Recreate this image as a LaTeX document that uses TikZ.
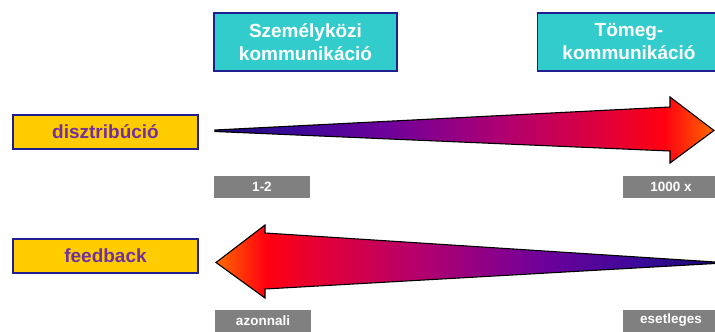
\documentclass[tikz,border=0pt]{standalone}
\usepackage{fontspec}
\setmainfont{Liberation Sans}
\definecolor{teal1}{HTML}{33CCCC}
\definecolor{navy1}{HTML}{1F1F8F}
\definecolor{gold1}{HTML}{FFCC00}
\definecolor{purp1}{HTML}{7030A0}
\definecolor{gray1}{HTML}{808080}
\definecolor{gA}{HTML}{1A0A70}
\definecolor{gB}{HTML}{3A0A9A}
\definecolor{gC}{HTML}{70009A}
\definecolor{gD}{HTML}{B00070}
\definecolor{gE}{HTML}{E0003A}
\definecolor{gF}{HTML}{FF0010}
\definecolor{gG}{HTML}{FF6A00}
\pgfdeclarehorizontalshading{arrowgrad}{100bp}{
  color(0bp)=(gA);
  color(25bp)=(gA);
  color(32.5bp)=(gB);
  color(42.5bp)=(gC);
  color(54bp)=(gD);
  color(64bp)=(gE);
  color(70bp)=(gF);
  color(75bp)=(gG);
  color(100bp)=(gG)}
\begin{document}
\begin{tikzpicture}[x=1pt,y=-1pt,
  headbox/.style={draw=navy1,line width=1.5pt,fill=teal1,text=white,font=\bfseries\fontsize{19}{23}\selectfont,align=center,minimum width=183pt,minimum height=58pt,inner sep=0pt},
  rowbox/.style={draw=navy1,line width=1.2pt,fill=gold1,text=purp1,font=\bfseries\fontsize{19}{23}\selectfont,minimum width=185pt,minimum height=34pt,inner sep=0pt},
  graybox/.style={fill=gray1,text=white,font=\bfseries\fontsize{13.5}{15}\selectfont,minimum width=96pt,minimum height=22pt,inner sep=0pt},
  bigarrow/.style={draw=black,line width=1.1pt,line join=miter,shading=arrowgrad}]
\clip (0,0) rectangle (715,332);
\node[headbox] (szem) at (305.5,42) {Személyközi\\kommunikáció};
\node[headbox] (tomeg) at (629,42) {Tömeg-\\kommunikáció};
\node[rowbox] (dist) at (105.5,132) {disztribúció};
\node[rowbox] (feed) at (105.5,256) {feedback};
\node[graybox] (g1) at (262,186.5) {1-2};
\node[graybox] (g2) at (671,186.5) {1000 x};
\node[graybox] (g3) at (263,320.5) {azonnali};
\node[graybox] (g4) at (671,320.5) {esetleges};
\path[bigarrow] (215,130) -- (670,107) -- (670,97) -- (714,130.5) -- (670,163) -- (670,151) -- (215,131.5) -- cycle;
\path[bigarrow,shading angle=180] (715,262) -- (265,233) -- (265,225) -- (216,262.5) -- (265,298) -- (265,289) -- (715,263.5) -- cycle;
\end{tikzpicture}
\end{document}
